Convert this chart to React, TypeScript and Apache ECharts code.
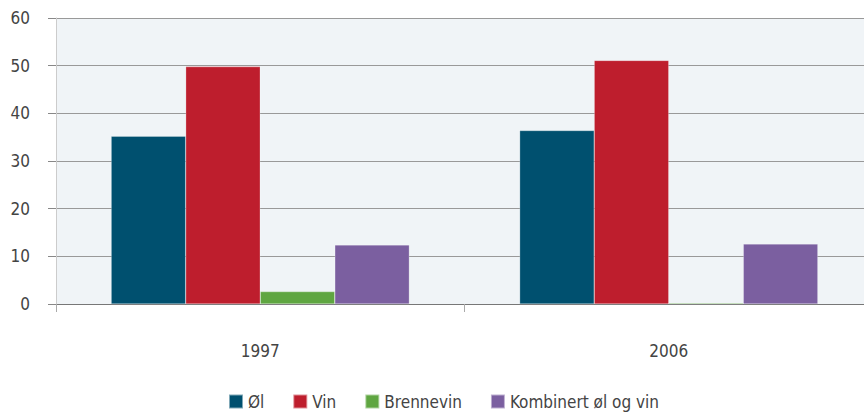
import React, { useEffect, useRef } from "react";
import * as echarts from "echarts";

const categories = ["1997", "2006"];
const seriesNames = ["Øl", "Vin", "Brennevin", "Kombinert øl og vin"];
const olValues = [35.2, 36.4];
const vinValues = [49.8, 51.1];
const brennevinValues = [2.6, 0.2];
const kombinertValues = [12.4, 12.6];
const colors = ["#00506f", "#be1e2d", "#5fa641", "#7b5fa0"];

const FONT = "'Liberation Sans Narrow', 'DejaVu Sans Condensed', 'Roboto', sans-serif";

export default function App() {
  const ref = useRef<HTMLDivElement>(null);
  useEffect(() => {
    if (!ref.current) return;
    const chart = echarts.init(ref.current, undefined, { renderer: "svg" });
    const dataSets = [olValues, vinValues, brennevinValues, kombinertValues];
    chart.setOption({
      animation: false,
      textStyle: { fontFamily: FONT },
      grid: {
        left: 56,
        top: 18,
        bottom: 111,
        right: 7,
        show: true,
        backgroundColor: "#f0f4f7",
        borderWidth: 0,
      },
      legend: {
        bottom: 0,
        left: 223,
        itemWidth: 14,
        itemHeight: 14,
        itemGap: 28,
        icon: "rect",
        textStyle: { fontFamily: FONT, fontSize: 17, color: "#444" },
        data: seriesNames,
      },
      xAxis: {
        type: "category",
        data: categories,
        axisLine: { lineStyle: { color: "#777", width: 1 } },
        axisTick: { show: true, length: 8, lineStyle: { color: "#aaa" } },
        axisLabel: { margin: 38, fontSize: 17, color: "#444", fontFamily: FONT },
      },
      yAxis: {
        type: "value",
        min: 0,
        max: 60,
        interval: 10,
        axisLine: { show: true, lineStyle: { color: "#ccc" } },
        axisTick: { show: true, length: 8, lineStyle: { color: "#888" } },
        splitLine: { lineStyle: { color: "#999", width: 1 } },
        axisLabel: { margin: 26, fontSize: 17, color: "#444", fontFamily: FONT },
      },
      series: seriesNames.map((name, i) => ({
        name,
        type: "bar",
        data: dataSets[i],
        barGap: "0%",
        barCategoryGap: "27%",
        itemStyle: { color: colors[i], borderColor: "rgba(255,255,255,0.5)", borderWidth: 0.5 },
      })),
    });
    return () => chart.dispose();
  }, []);
  return (
    <div style={{ position: "absolute", left: 0, top: 0, width: 864, height: 415, overflow: "hidden" }}>
      <div ref={ref} style={{ width: 880, height: 415, position: "absolute", left: 0, top: 0 }} />
    </div>
  );
}
